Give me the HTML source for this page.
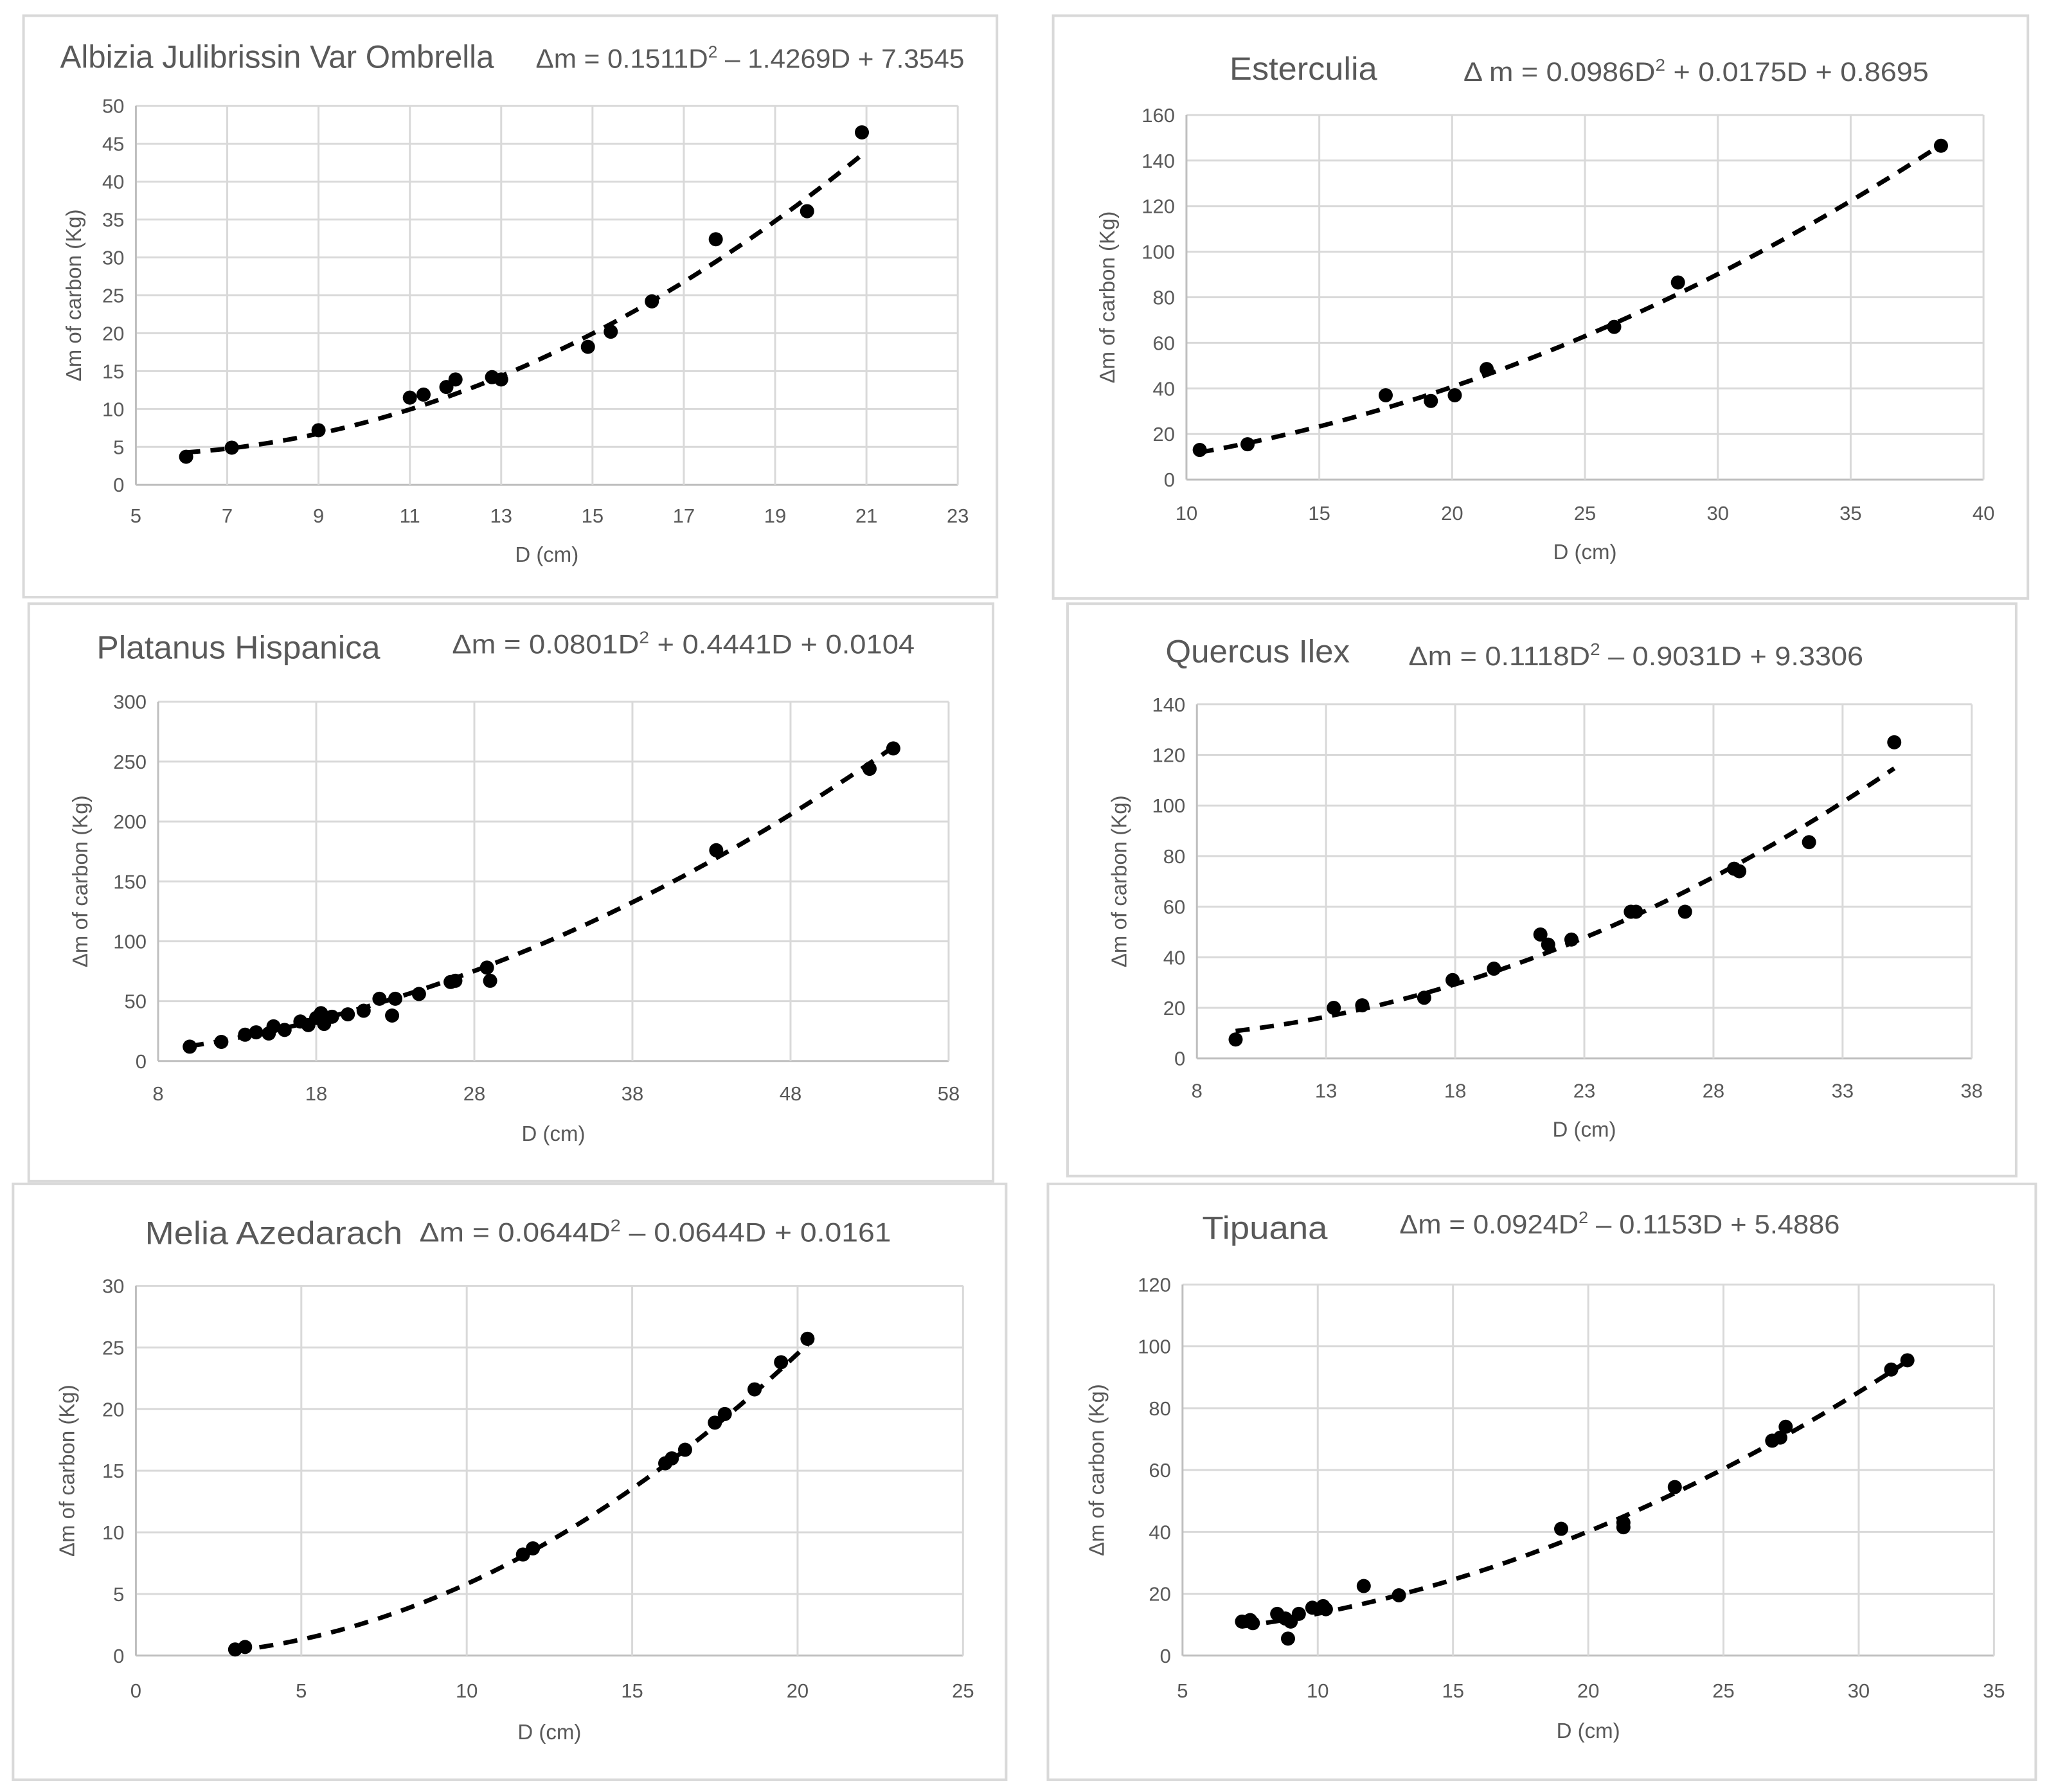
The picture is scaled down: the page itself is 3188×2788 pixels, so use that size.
<!DOCTYPE html>
<html><head><meta charset="utf-8"><style>
html,body{margin:0;padding:0;background:#fff;}
svg{display:block;font-family:"Liberation Sans",sans-serif;}
</style></head><body>
<svg id="chart" width="3188" height="2788" viewBox="0 0 3188 2788" xmlns="http://www.w3.org/2000/svg"></svg>
<script>
const S = 2.033;
// ---- data arrays ----
const albiziaD = [6.1,7.1,9.0,11.0,11.3,11.8,12.0,12.8,13.0,14.9,15.4,16.3,17.7,19.7,20.9];
const albiziaM = [3.7,4.9,7.2,11.5,11.9,12.9,13.9,14.2,13.9,18.2,20.2,24.2,32.4,36.1,46.5];
const esterD = [10.5,12.3,17.5,19.2,20.1,21.3,26.1,28.5,38.4];
const esterM = [13,15.5,37,34.5,37,48.5,67,86.5,146.5];
const platD = [10,12,13.5,14.2,15,15.3,16,17,17.5,18,18.3,18.5,19,20,21,22,22.8,23,24.5,26.5,26.8,28.8,29,43.3,53,54.5];
const platM = [12,16,22,24,23,29,26,33,30,36,40,31,37,39,42,52,38,52,56,66,67,78,67,176,244,261];
const quercD = [9.5,13.3,14.4,16.8,17.9,19.5,21.3,21.6,22.5,24.8,25,26.9,28.8,29,31.7,35];
const quercM = [7.5,20,21,24,31,35.5,49,45,47,58,58,58,75,74,85.5,125];
const meliaD = [3,3.3,11.7,12,16,16.2,16.6,17.5,17.8,18.7,19.5,20.3];
const meliaM = [0.5,0.7,8.2,8.7,15.6,16,16.7,18.9,19.6,21.6,23.8,25.7];
const tipD = [7.2,7.5,7.6,8.5,8.8,8.9,9,9.3,9.8,10.2,10.3,11.7,13,19,21.3,21.3,23.2,26.8,27.1,27.3,31.2,31.8];
const tipM = [11,11.5,10.5,13.5,12,5.5,11,13.5,15.5,16,15,22.5,19.5,41,43,41.5,54.5,69.5,70.5,74,92.5,95.5];
const albiziaCoef = [0.1511,-1.4269,7.3545];
const esterCoef = [0.0986,0.0175,0.8695];
const platCoef = [0.0801,0.4441,0.0104];
const quercCoef = [0.1118,-0.9031,9.3306];
const meliaCoef = [0.0644,-0.0644,0.0161];
const tipCoef = [0.0924,-0.1153,5.4886];
const albiziaXTicks = [5,7,9,11,13,15,17,19,21,23];
const albiziaYTicks = [0,5,10,15,20,25,30,35,40,45,50];
const esterXTicks = [10,15,20,25,30,35,40];
const esterYTicks = [0,20,40,60,80,100,120,140,160];
const platXTicks = [8,18,28,38,48,58];
const platYTicks = [0,50,100,150,200,250,300];
const quercXTicks = [8,13,18,23,28,33,38];
const quercYTicks = [0,20,40,60,80,100,120,140];
const meliaXTicks = [0,5,10,15,20,25];
const meliaYTicks = [0,5,10,15,20,25,30];
const tipXTicks = [5,10,15,20,25,30,35];
const tipYTicks = [0,20,40,60,80,100,120];

const panels = [
 {key:'albizia',title:'Albizia Julibrissin Var Ombrella',eq:['Δm = 0.1511D','2',' – 1.4269D + 7.3545'],box:[18,12,763,457],tx:46,ty:52,tw:332,ex:410,ew:328,eqy:52,
  px:[104,733],py:[81,371],xt:albiziaXTicks,yt:albiziaYTicks,D:albiziaD,M:albiziaM,c:albiziaCoef,tickY:400,labY:430,ylx:57},
 {key:'esterculia',title:'Esterculia',eq:['Δ m = 0.0986D','2',' + 0.0175D + 0.8695'],box:[806,12,1552,458],tx:941,ty:61,tw:113,ex:1120,ew:356,eqy:62,
  px:[908,1518],py:[88,367],xt:esterXTicks,yt:esterYTicks,D:esterD,M:esterM,c:esterCoef,tickY:398,labY:428,ylx:848},
 {key:'platanus',title:'Platanus Hispanica',eq:['Δm  = 0.0801D','2',' + 0.4441D + 0.0104'],box:[22,462,760,904],tx:74,ty:504,tw:217,ex:346,ew:354,eqy:500,
  px:[121,726],py:[537,812],xt:platXTicks,yt:platYTicks,D:platD,M:platM,c:platCoef,tickY:842,labY:873,ylx:62},
 {key:'quercus',title:'Quercus Ilex',eq:['Δm = 0.1118D','2',' – 0.9031D + 9.3306'],box:[817,462,1543,900],tx:892,ty:507,tw:141,ex:1078,ew:348,eqy:509,
  px:[916,1509],py:[539,810],xt:quercXTicks,yt:quercYTicks,D:quercD,M:quercM,c:quercCoef,tickY:840,labY:870,ylx:857},
 {key:'melia',title:'Melia Azedarach',eq:['Δm = 0.0644D','2',' – 0.0644D + 0.0161'],box:[10,906,770,1362],tx:111,ty:952,tw:197,ex:321,ew:361,eqy:950,
  px:[104,737],py:[984,1267],xt:meliaXTicks,yt:meliaYTicks,D:meliaD,M:meliaM,c:meliaCoef,tickY:1299,labY:1331,ylx:52},
 {key:'tipuana',title:'Tipuana',eq:['Δm = 0.0924D','2',' – 0.1153D + 5.4886'],box:[802,906,1558,1362],tx:920,ty:948,tw:96,ex:1071,ew:337,eqy:944,
  px:[905,1526],py:[983,1267],xt:tipXTicks,yt:tipYTicks,D:tipD,M:tipM,c:tipCoef,tickY:1299,labY:1330,ylx:840}
];

const NS='http://www.w3.org/2000/svg';
const svg=document.getElementById('chart');
function mk(tag,attrs,parent){const e=document.createElementNS(NS,tag);for(const k in attrs)e.setAttribute(k,attrs[k]);(parent||svg).appendChild(e);return e;}

panels.forEach(p=>{
  const g=mk('g',{});
  
  
  const b=p.box.map(v=>v*S);
  const frame=mk('rect',{x:b[0],y:b[1],width:b[2]-b[0],height:b[3]-b[1],fill:'#fff',stroke:'#d9d9d9','stroke-width':4},g);
  
  
  const x0=p.px[0]*S,x1=p.px[1]*S,y0=p.py[1]*S,y1=p.py[0]*S;
  const xmin=p.xt[0],xmax=p.xt[p.xt.length-1],ymin=p.yt[0],ymax=p.yt[p.yt.length-1];
  const sx=v=>x0+(v-xmin)/(xmax-xmin)*(x1-x0);
  const sy=v=>y0-(v-ymin)/(ymax-ymin)*(y0-y1);
  const t=mk('text',{x:p.tx*S,y:p.ty*S,'font-size':50,fill:'#595959',textLength:p.tw*S,lengthAdjust:'spacingAndGlyphs'},g);
  t.textContent=p.title;
  
  
  const eq=mk('text',{x:p.ex*S,y:p.eqy*S,'font-size':42,fill:'#595959',textLength:p.ew*S,lengthAdjust:'spacingAndGlyphs'},g);
  
  
  const s1=mk('tspan',{},eq);s1.textContent=p.eq[0];
  const s2=mk('tspan',{dy:-16,'font-size':26},eq);s2.textContent=p.eq[1];
  const s3=mk('tspan',{dy:16},eq);s3.textContent=p.eq[2];
  p.yt.forEach(v=>{
    const l=mk('line',{x1:x0,x2:x1,y1:sy(v),y2:sy(v),stroke:v===ymin?'#bfbfbf':'#d9d9d9','stroke-width':3},g);
    
    
    const tl=mk('text',{x:x0-18,y:sy(v)+11,'font-size':31,fill:'#595959','text-anchor':'end'},g);
    tl.textContent=v;
    
    
  });
  p.xt.forEach(v=>{
    const l=mk('line',{x1:sx(v),x2:sx(v),y1:y1,y2:y0,stroke:v===xmin?'#bfbfbf':'#d9d9d9','stroke-width':3},g);
    
    
    const tl=mk('text',{x:sx(v),y:p.tickY*S,'font-size':31,fill:'#595959','text-anchor':'middle'},g);
    tl.textContent=v;
    
    
  });
  const xl=mk('text',{x:(x0+x1)/2,y:p.labY*S,'font-size':33,fill:'#595959','text-anchor':'middle'},g);
  xl.textContent='D (cm)';
  
  
  const yc=(y0+y1)/2,yx=p.ylx*S+10;
  const yl=mk('text',{x:yx,y:yc,'font-size':33,fill:'#595959','text-anchor':'middle',transform:`rotate(-90 ${yx} ${yc})`},g);
  yl.textContent='Δm of carbon (Kg)';
  
  
  const dmin=Math.min(...p.D),dmax=Math.max(...p.D);
  let d='';
  for(let i=0;i<=60;i++){const x=dmin+(dmax-dmin)*i/60;const y=p.c[0]*x*x+p.c[1]*x+p.c[2];d+=(i?'L':'M')+sx(x).toFixed(1)+' '+sy(y).toFixed(1);}
  const tr=mk('path',{d:d,fill:'none',stroke:'#000','stroke-width':7,'stroke-dasharray':'22 16'},g);
  
  
  p.D.forEach((x,i)=>{
    const c=mk('circle',{cx:sx(x),cy:sy(p.M[i]),r:11,fill:'#000'},g);
    
    
  });
});
</script>
</body></html>
